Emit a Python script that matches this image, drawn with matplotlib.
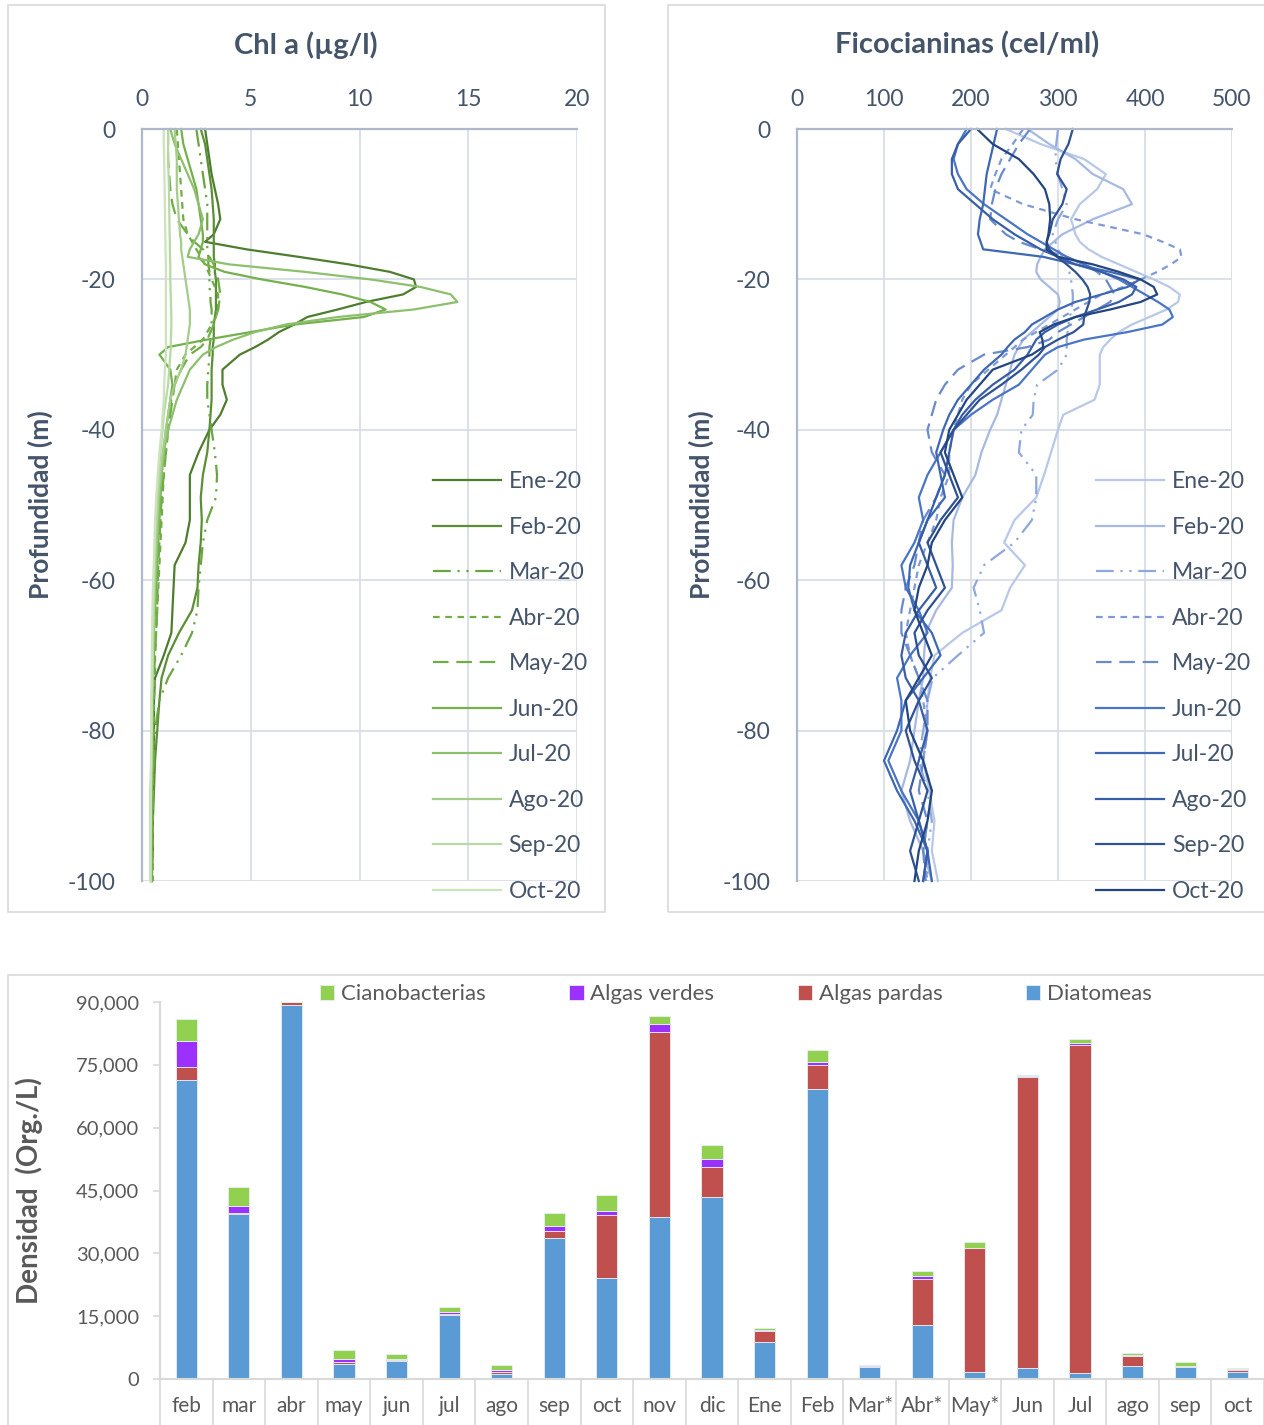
import matplotlib
matplotlib.use("Agg")
import matplotlib.pyplot as plt
from matplotlib.patches import Rectangle
from matplotlib.ticker import FuncFormatter

plt.rcParams['font.family'] = ['Lato', 'DejaVu Sans']
plt.rcParams['axes.unicode_minus'] = False

# depth grid (m) shared by all profiles
depth = [0, 2, 4, 6, 8, 10, 12, 14, 15, 16, 17, 18, 19, 20, 21, 22, 23, 24, 25, 26, 27, 28, 29, 30,
         32, 34, 36, 38, 40, 43, 46, 49, 52, 55, 58, 61, 64, 67, 70, 73, 76, 80, 84, 88, 92, 96, 100]

months = ['Ene-20', 'Feb-20', 'Mar-20', 'Abr-20', 'May-20', 'Jun-20', 'Jul-20', 'Ago-20', 'Sep-20', 'Oct-20']

# Chl a (ug/l)
chl_ene = [2.9, 3.0, 3.1, 3.2, 3.35, 3.5, 3.6, 3.3, 2.9, 4.8, 7.2, 9.5, 11.4, 12.5, 12.6, 12.0,
           10.3, 9.0, 7.6, 7.0, 6.3, 5.8, 5.2, 4.5, 3.7, 3.7, 3.9, 3.6, 3.1, 2.6, 2.2, 2.2,
           2.2, 2.0, 1.5, 1.45, 1.4, 1.35, 1.0, 0.6, 0.55, 0.55, 0.55, 0.5, 0.5, 0.45, 0.45]
chl_feb = [2.7, 2.9, 3.0, 3.1, 3.2, 3.25, 3.3, 3.3, 3.3, 3.3, 3.3, 3.35, 3.35, 3.4, 3.4, 3.4,
           3.4, 3.4, 3.35, 3.3, 3.3, 3.3, 3.25, 3.25, 3.2, 3.2, 3.2, 3.15, 3.1, 3.0, 2.8, 2.7,
           2.75, 2.7, 2.6, 2.55, 2.3, 1.7, 1.2, 0.9, 0.8, 0.7, 0.6, 0.55, 0.5, 0.5, 0.45]
chl_mar = [2.5, 2.6, 2.7, 2.8, 2.9, 3.0, 3.0, 3.0, 3.0, 3.0, 3.05, 3.05, 3.1, 3.1, 3.1, 3.15,
           3.15, 3.2, 3.2, 3.2, 3.15, 3.15, 3.1, 3.1, 3.05, 3.0, 3.0, 3.1, 3.2, 3.35, 3.45, 3.4,
           3.0, 2.8, 2.7, 2.6, 2.55, 2.3, 1.8, 1.2, 0.8, 0.6, 0.55, 0.5, 0.5, 0.45, 0.45]
chl_abr = [1.6, 1.65, 1.7, 1.75, 1.8, 1.85, 1.9, 2.1, 2.3, 2.5, 2.7, 2.9, 3.05, 3.2, 3.35, 3.5,
           3.5, 3.5, 3.4, 3.2, 3.0, 2.8, 2.4, 2.0, 1.6, 1.5, 1.35, 1.25, 1.2, 1.1, 1.0, 0.95,
           0.9, 0.85, 0.8, 0.75, 0.7, 0.65, 0.6, 0.6, 0.55, 0.55, 0.5, 0.5, 0.5, 0.5, 0.5]
chl_may = [1.2, 1.2, 1.2, 1.25, 1.3, 1.4, 1.6, 2.1, 2.4, 2.8, 3.1, 3.3, 3.4, 3.5, 3.55, 3.6,
           3.55, 3.5, 3.4, 3.3, 3.15, 3.0, 2.7, 2.2, 1.8, 1.5, 1.4, 1.3, 1.2, 1.1, 1.0, 0.9,
           0.85, 0.8, 0.75, 0.72, 0.7, 0.65, 0.6, 0.55, 0.5, 0.5, 0.5, 0.45, 0.45, 0.45, 0.45]
chl_jun = [1.8, 1.9, 2.1, 2.3, 2.5, 2.6, 2.7, 2.8, 2.8, 2.7, 2.6, 2.9, 3.8, 5.5, 7.5, 9.2,
           10.5, 11.2, 10.2, 7.0, 5.0, 3.0, 1.2, 0.8, 1.3, 1.4, 1.3, 1.2, 1.1, 1.0, 0.9, 0.85,
           0.8, 0.75, 0.7, 0.65, 0.6, 0.55, 0.55, 0.5, 0.5, 0.5, 0.5, 0.45, 0.45, 0.45, 0.45]
chl_jul = [1.3, 1.5, 1.8, 2.1, 2.4, 2.6, 2.8, 2.6, 2.4, 2.2, 2.1, 4.0, 7.5, 10.5, 12.8, 14.2,
           14.5, 12.5, 9.0, 6.6, 5.2, 4.2, 3.4, 2.8, 2.2, 1.9, 1.6, 1.4, 1.2, 1.0, 0.9, 0.8,
           0.75, 0.7, 0.65, 0.6, 0.55, 0.55, 0.5, 0.5, 0.45, 0.45, 0.45, 0.4, 0.4, 0.4, 0.4]
chl_ago = [1.5, 1.55, 1.6, 1.6, 1.6, 1.65, 1.7, 1.75, 1.8, 1.8, 1.85, 1.9, 1.95, 2.0, 2.05, 2.1,
           2.15, 2.2, 2.2, 2.2, 2.15, 2.1, 2.05, 2.0, 1.8, 1.5, 1.3, 1.2, 1.1, 0.95, 0.85, 0.75,
           0.7, 0.65, 0.6, 0.57, 0.55, 0.52, 0.5, 0.48, 0.45, 0.45, 0.42, 0.4, 0.4, 0.4, 0.4]
chl_sep = [1.2, 1.2, 1.2, 1.22, 1.24, 1.25, 1.26, 1.27, 1.28, 1.28, 1.29, 1.3, 1.3, 1.3, 1.31, 1.32,
           1.33, 1.34, 1.35, 1.35, 1.34, 1.33, 1.32, 1.3, 1.25, 1.2, 1.1, 1.0, 0.95, 0.85, 0.78, 0.7,
           0.65, 0.6, 0.57, 0.55, 0.52, 0.5, 0.5, 0.48, 0.46, 0.45, 0.44, 0.42, 0.4, 0.4, 0.4]
chl_oct = [1.0, 1.0, 1.02, 1.03, 1.04, 1.05, 1.06, 1.07, 1.08, 1.08, 1.09, 1.1, 1.1, 1.1, 1.1, 1.1,
           1.1, 1.1, 1.1, 1.1, 1.1, 1.1, 1.1, 1.1, 1.05, 1.02, 1.0, 0.95, 0.9, 0.8, 0.72, 0.65,
           0.6, 0.57, 0.54, 0.5, 0.48, 0.46, 0.45, 0.44, 0.43, 0.42, 0.41, 0.4, 0.4, 0.38, 0.38]

# Ficocianinas (cel/ml)
fic_ene = [240, 280, 330, 355, 345, 325, 315, 320, 325, 335, 350, 370, 390, 410, 428, 440,
           438, 425, 405, 385, 370, 360, 352, 348, 348, 348, 342, 306, 300, 292, 284, 275,
           250, 238, 262, 245, 235, 190, 158, 153, 150, 148, 145, 152, 158, 155, 162]
fic_feb = [265, 290, 320, 340, 375, 385, 340, 305, 295, 285, 280, 276, 275, 280, 290, 300,
           302, 300, 290, 280, 270, 260, 255, 250, 245, 240, 235, 230, 222, 212, 205, 190,
           180, 178, 179, 178, 160, 148, 146, 145, 140, 135, 130, 120, 130, 145, 155]
fic_mar = [300, 298, 297, 300, 305, 310, 300, 294, 297, 300, 305, 310, 313, 315, 316, 317,
           317, 315, 314, 312, 311, 310, 310, 310, 300, 276, 272, 271, 258, 255, 275, 275,
           270, 250, 215, 203, 210, 215, 185, 156, 150, 145, 140, 150, 155, 150, 150]
fic_abr = [260, 248, 235, 228, 222, 260, 320, 398, 420, 440, 442, 430, 414, 395, 375, 350,
           335, 320, 305, 290, 275, 260, 250, 240, 220, 200, 190, 185, 180, 175, 175, 165,
           160, 150, 140, 135, 130, 125, 130, 140, 145, 150, 145, 155, 150, 145, 150]
fic_may = [268, 255, 245, 235, 228, 224, 222, 240, 255, 280, 310, 330, 345, 355, 360, 365,
           360, 345, 330, 315, 300, 290, 265, 215, 185, 170, 160, 155, 150, 155, 170, 160,
           145, 140, 135, 125, 120, 120, 130, 140, 150, 150, 145, 140, 150, 145, 148]
fic_jun = [195, 185, 180, 185, 195, 215, 240, 265, 280, 295, 310, 330, 350, 370, 385, 400,
           415, 428, 432, 420, 380, 330, 300, 285, 270, 255, 225, 200, 180, 165, 150, 140,
           145, 135, 120, 125, 140, 150, 130, 115, 120, 120, 105, 120, 140, 150, 145]
fic_jul = [230, 226, 222, 218, 216, 214, 210, 208, 211, 214, 283, 320, 360, 394, 380, 350,
           320, 300, 285, 270, 262, 250, 242, 235, 215, 200, 185, 175, 168, 160, 165, 170,
           150, 140, 130, 128, 135, 155, 165, 145, 125, 115, 100, 115, 135, 150, 155]
fic_ago = [200, 185, 178, 178, 185, 205, 225, 250, 265, 280, 300, 320, 350, 375, 390, 385,
           370, 345, 320, 300, 285, 275, 270, 265, 250, 225, 205, 190, 180, 175, 170, 160,
           150, 140, 150, 160, 140, 125, 120, 125, 140, 150, 140, 130, 140, 150, 145]
fic_sep = [317, 312, 303, 299, 310, 305, 294, 290, 287, 290, 299, 310, 320, 328, 334, 337,
           336, 333, 330, 329, 318, 300, 285, 278, 258, 235, 210, 195, 180, 165, 175, 185,
           165, 150, 160, 170, 150, 135, 140, 155, 140, 125, 135, 150, 140, 130, 140]
fic_oct = [207, 225, 255, 272, 285, 290, 291, 289, 287, 287, 300, 340, 370, 395, 410, 414,
           395, 360, 320, 295, 279, 282, 283, 270, 225, 210, 195, 185, 175, 170, 180, 190,
           170, 155, 150, 140, 135, 145, 155, 140, 125, 130, 145, 155, 150, 140, 135]

# bottom chart
categories = ['feb', 'mar', 'abr', 'may', 'jun', 'jul', 'ago', 'sep', 'oct', 'nov', 'dic',
              'Ene', 'Feb', 'Mar*', 'Abr*', 'May*', 'Jun', 'Jul', 'ago', 'sep', 'oct']
diatomeas = [71400, 39500, 89400, 3600, 4400, 15200, 1300, 33700, 24100, 38600, 43400,
             8750, 69200, 2800, 13000, 1600, 2600, 1350, 3200, 2900, 1750]
algas_pardas = [3100, 200, 500, 550, 100, 300, 400, 1750, 15000, 44200, 7100,
                2600, 5700, 250, 10800, 29600, 69400, 78500, 2300, 250, 400]
algas_verdes = [6300, 1500, 50, 700, 300, 550, 400, 1100, 1100, 2000, 2100,
                400, 850, 250, 800, 100, 400, 450, 300, 50, 150]
cianobacterias = [5100, 4700, 50, 2000, 1100, 1200, 1350, 3000, 3800, 1800, 3300,
                  400, 2800, 150, 1100, 1400, 200, 750, 400, 850, 400]

chl = [chl_ene, chl_feb, chl_mar, chl_abr, chl_may, chl_jun, chl_jul, chl_ago, chl_sep, chl_oct]
fic = [fic_ene, fic_feb, fic_mar, fic_abr, fic_may, fic_jun, fic_jul, fic_ago, fic_sep, fic_oct]

greens = ['#4E7D2E', '#5A8F35', '#6AA541', '#70AD47', '#70AD47', '#74B04C',
          '#8DC06C', '#A3CD88', '#B7D9A2', '#CCE3BE']
blues = ['#B8C8E8', '#A6B9E2', '#8FA8DC', '#7E9AD6', '#6A8ACD', '#4A75C4',
         '#3F68B4', '#375EA6', '#2E5294', '#244680']
styles = ['-', '-', (0, (8, 3, 1, 3, 1, 3)), (0, (3, 2.5)), (0, (7, 3.5)),
          '-', '-', '-', '-', '-']

W, H = 1264, 1425
fig = plt.figure(figsize=(W / 100, H / 100), dpi=100)

txt = '#44546A'
grid_c = '#D9DEE7'
spine_c = '#ADB9CA'


def px(x0, y0, x1, y1):
    return [x0 / W, 1 - y1 / H, (x1 - x0) / W, (y1 - y0) / H]


def profile(rect, series, colors, xmax, xstep, title, title_x, ylab_x, leg_x):
    ax = fig.add_axes(rect)
    neg = [-d for d in depth]
    for vals, c, ls, lab in zip(series, colors, styles, months):
        ax.plot(vals, neg, color=c, lw=1.6, ls=ls, label=lab, clip_on=False)
    ax.set_xlim(0, xmax)
    ax.set_ylim(-100, 0)
    ax.set_xticks(range(0, xmax + 1, xstep))
    ax.set_yticks(range(-100, 1, 20))
    ax.xaxis.tick_top()
    ax.tick_params(length=0, labelsize=16.5, colors=txt)
    ax.tick_params(axis='x', pad=14)
    ax.tick_params(axis='y', pad=19)
    ax.grid(True, color=grid_c, lw=1.3)
    ax.set_axisbelow(True)
    for s in ['right', 'bottom']:
        ax.spines[s].set_visible(False)
    for s in ['left', 'top']:
        ax.spines[s].set_color(spine_c)
        ax.spines[s].set_linewidth(1.6)
    ax.set_ylabel('Profundidad (m)', fontsize=19, fontweight='bold', color=txt)
    ax.yaxis.set_label_coords(ylab_x, 0.5)
    fig.text(title_x / W, 1 - 45 / H, title, fontsize=21, fontweight='bold',
             color=txt, ha='center', va='center')
    leg = ax.legend(loc='upper left', bbox_to_anchor=(leg_x, 0.545), frameon=False,
                    fontsize=16.5, handlelength=2.95, handletextpad=0.35,
                    labelspacing=1.07, borderpad=0, borderaxespad=0)
    for t in leg.get_texts():
        t.set_color(txt)
    return ax


profile(px(142, 129, 577, 881), chl, greens, 20, 5, 'Chl a (µg/l)', 306, -0.205, 0.669)
profile(px(797, 129, 1232, 881), fic, blues, 500, 100, 'Ficocianinas (cel/ml)', 967, -0.19, 0.688)

# panel borders
border = '#D9D9D9'
fig.add_artist(Rectangle((8 / W, 1 - 912 / H), 597 / W, 907 / H, transform=fig.transFigure,
                         fill=False, ec=border, lw=1.2))
fig.add_artist(Rectangle((668 / W, 1 - 912 / H), 610 / W, 907 / H, transform=fig.transFigure,
                         fill=False, ec=border, lw=1.2))
fig.add_artist(Rectangle((8 / W, -0.01), 1.0, (1425 - 975) / H + 0.01, transform=fig.transFigure,
                         fill=False, ec=border, lw=1.2))

# stacked bar chart
ax3 = fig.add_axes(px(160, 1002, 1264, 1379))
x = list(range(len(categories)))
bw = 0.4
ec = dict(edgecolor='#E8EEF6', linewidth=0.6)
b1 = ax3.bar(x, diatomeas, bw, color='#5B9BD5', label='Diatomeas', **ec)
bottom2 = diatomeas
b2 = ax3.bar(x, algas_pardas, bw, bottom=bottom2, color='#C0504D', label='Algas pardas', **ec)
bottom3 = [a + b for a, b in zip(diatomeas, algas_pardas)]
b3 = ax3.bar(x, algas_verdes, bw, bottom=bottom3, color='#9B30FF', label='Algas verdes', **ec)
bottom4 = [a + b for a, b in zip(bottom3, algas_verdes)]
b4 = ax3.bar(x, cianobacterias, bw, bottom=bottom4, color='#92D050', label='Cianobacterias', **ec)

ax3.set_xlim(-0.5, len(categories) - 0.5)
ax3.set_ylim(0, 90000)
ax3.set_yticks(range(0, 90001, 15000))
ax3.yaxis.set_major_formatter(FuncFormatter(lambda v, p: f'{int(v):,}'))
ax3.set_xticks(x)
ax3.set_xticklabels(categories)
ax3.set_xticks([i - 0.5 for i in range(len(categories) + 1)], minor=True)
ax3.tick_params(axis='x', which='major', length=0, pad=12, labelsize=15, colors='#595959')
ax3.tick_params(axis='x', which='minor', length=34, width=1.2, color='#D9D9D9')
ax3.tick_params(axis='y', length=5, width=1.2, color='#D9D9D9', labelsize=14.5,
                labelcolor='#595959', pad=10)
for s in ['right', 'top']:
    ax3.spines[s].set_visible(False)
for s in ['left', 'bottom']:
    ax3.spines[s].set_color('#D9D9D9')
    ax3.spines[s].set_linewidth(1.5)
ax3.set_ylabel('Densidad  (Org./L)', fontsize=20, fontweight='bold', color='#595959')
ax3.yaxis.set_label_coords(-0.106, 0.5)
leg3 = ax3.legend(handles=[b4, b3, b2, b1], loc='center left', bbox_to_anchor=(160 / 1104, 1.02),
                  ncol=4, frameon=False, fontsize=16, handlelength=0.65, handleheight=0.65,
                  handletextpad=0.3, columnspacing=3.75, borderpad=0, borderaxespad=0)
for t in leg3.get_texts():
    t.set_color('#595959')

fig.savefig('out.png', dpi=100)
